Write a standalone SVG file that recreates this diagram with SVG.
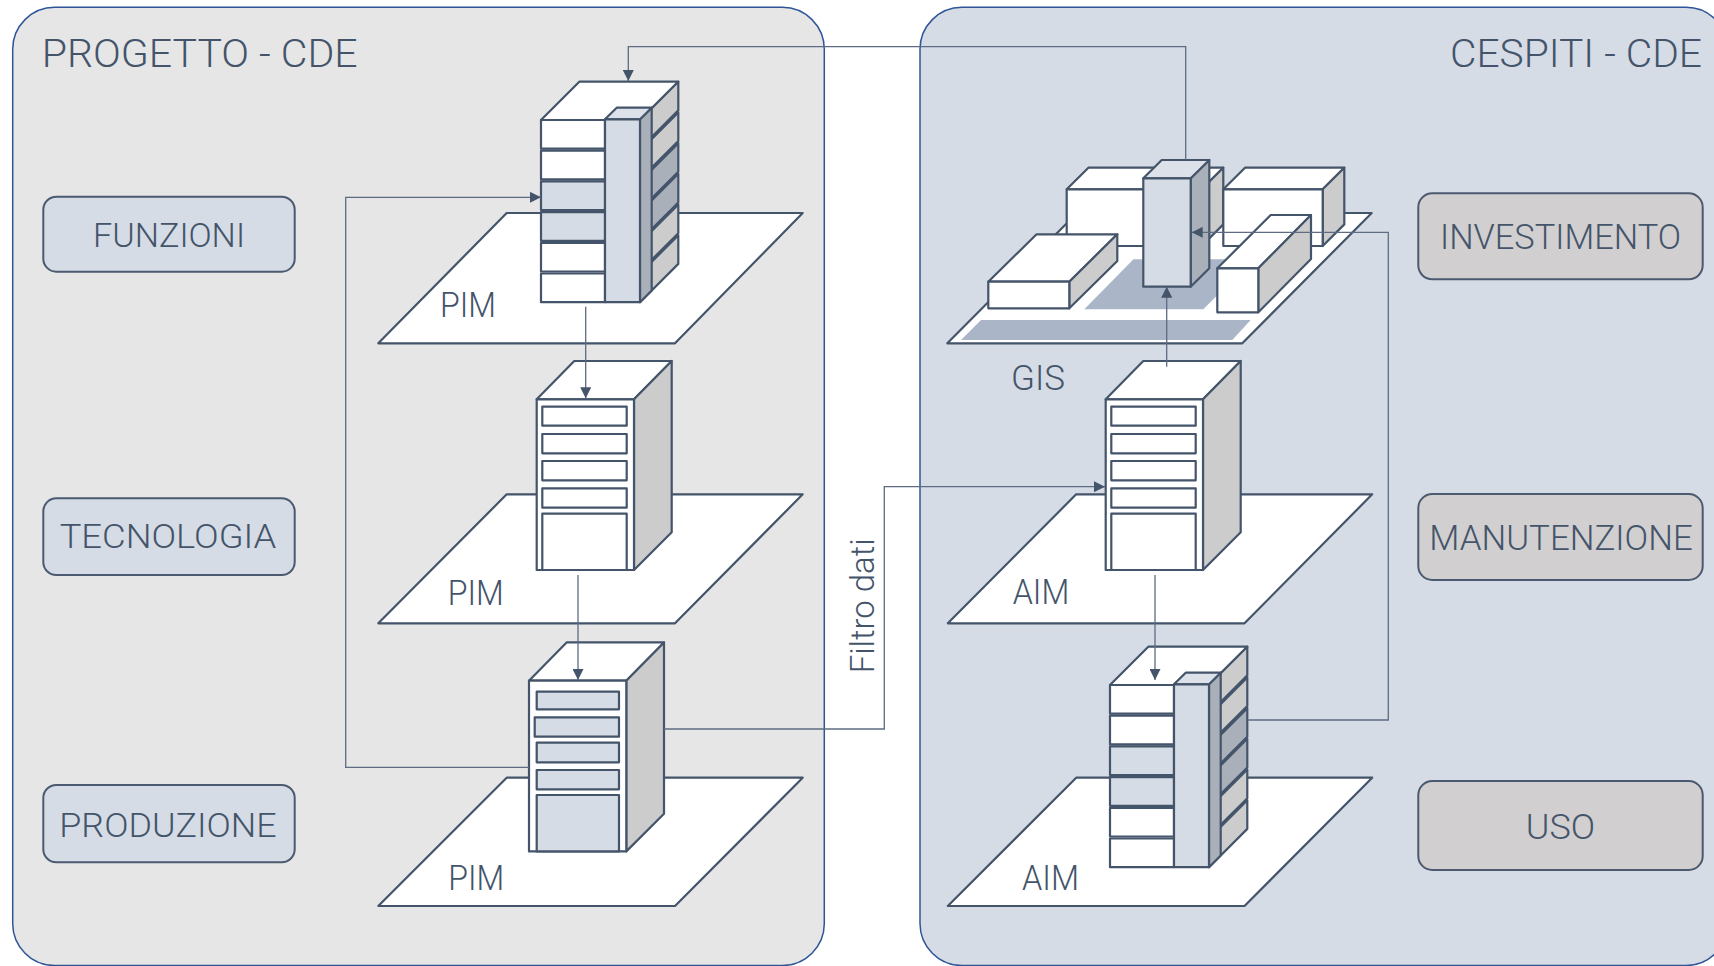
<svg xmlns="http://www.w3.org/2000/svg" width="1714" height="966" viewBox="0 0 1714 966">
<style>
.panelL{fill:#e6e6e6;stroke:#2f5597;stroke-width:1.5}
.panelR{fill:#d6dce5;stroke:#2f5597;stroke-width:1.5}
.box{stroke:#4b5a70;stroke-width:2}
.boxL{fill:#d6dce5}
.boxR{fill:#d1cfd0}
.ln{stroke:#44546a;stroke-width:2.2;stroke-linejoin:round}
.w{fill:#ffffff}
.g{fill:#cccccc}
.dk{fill:#aab0b9}
.bl{fill:#d6dce5}
.tp{fill:#dde2ea}
.strip{fill:#aab6c8;stroke:none}
.conn{fill:none;stroke:#5d6c82;stroke-width:1.3;marker-end:url(#arr)}
text{font-family:Roboto,"Liberation Sans",Arial,sans-serif;font-weight:300;fill:#44546a}
.title{font-size:38px}
.lbl{font-size:34px;text-anchor:middle}
.lblR{font-size:35px;text-anchor:middle}
.pl{font-size:35px}
</style>
<defs>
<marker id="arr" viewBox="0 0 11 11" refX="11" refY="5.5" markerWidth="11" markerHeight="11" markerUnits="userSpaceOnUse" orient="auto">
<path d="M0,0 L11,5.5 L0,11 Z" fill="#44546a"/>
</marker>
<g id="stack">
<path class="ln w" d="M0,0 L38.3,-38.3 L137.3,-38.3 L99,0 Z"/>
<path class="ln g" d="M99,0 L137.3,-38.3 L137.3,-9.6 L99,28.7 Z"/>
<path class="ln g" d="M99,30.7 L137.3,-7.6 L137.3,21.1 L99,59.4 Z"/>
<path class="ln dk" d="M99,61.4 L137.3,23.1 L137.3,51.8 L99,90.1 Z"/>
<path class="ln dk" d="M99,92.1 L137.3,53.8 L137.3,82.5 L99,120.8 Z"/>
<path class="ln g" d="M99,122.8 L137.3,84.5 L137.3,113.2 L99,151.5 Z"/>
<path class="ln g" d="M99,153.5 L137.3,115.2 L137.3,143.9 L99,182.2 Z"/>
<rect class="ln w" x="0" y="0" width="64" height="28.7"/>
<rect class="ln w" x="0" y="30.7" width="64" height="28.7"/>
<rect class="ln bl" x="0" y="61.4" width="64" height="28.7"/>
<rect class="ln bl" x="0" y="92.1" width="64" height="28.7"/>
<rect class="ln w" x="0" y="122.8" width="64" height="28.7"/>
<rect class="ln w" x="0" y="153.5" width="64" height="28.7"/>
<path class="ln dk" d="M99,-0.7 L110.7,-12.3 L110.7,170.5 L99,182.2 Z"/>
<path class="ln tp" d="M64,-0.7 L75.7,-12.3 L110.7,-12.3 L99,-0.7 Z"/>
<rect class="ln bl" x="64" y="-0.7" width="35" height="182.9"/>
</g>
<g id="server">
<path class="ln w" d="M0,0 L37.6,-38.3 L135,-38.3 L97.3,0 Z"/>
<path class="ln g" d="M97.3,0 L135,-38.3 L135,133 L97.3,170.7 Z"/>
<rect class="ln w" x="0" y="0" width="97.3" height="170.7"/>
</g>
</defs>

<rect width="1714" height="966" fill="#ffffff"/>

<g id="panel-progetto">
<rect class="panelL" x="12.7" y="7.3" width="811.6" height="958.2" rx="42"/>
<text class="title" x="41.7" y="66.7" textLength="316" lengthAdjust="spacingAndGlyphs">PROGETTO - CDE</text>
</g>
<g id="panel-cespiti">
<rect class="panelR" x="920" y="7.3" width="808" height="958.2" rx="42"/>
<text class="title" x="1450" y="66.7" textLength="252" lengthAdjust="spacingAndGlyphs">CESPITI - CDE</text>
</g>

<g id="box-funzioni">
<rect class="box boxL" x="43.3" y="196.7" width="251.4" height="75" rx="13"/>
<text class="lbl" x="169" y="246.7" textLength="152" lengthAdjust="spacingAndGlyphs">FUNZIONI</text>
</g>
<g id="box-tecnologia">
<rect class="box boxL" x="43.3" y="498.3" width="251.4" height="76.7" rx="13"/>
<text class="lbl" x="168" y="548.3" textLength="216.7" lengthAdjust="spacingAndGlyphs">TECNOLOGIA</text>
</g>
<g id="box-produzione">
<rect class="box boxL" x="43.3" y="785" width="251.4" height="77.3" rx="13"/>
<text class="lbl" x="168" y="837.3" textLength="217.4" lengthAdjust="spacingAndGlyphs">PRODUZIONE</text>
</g>

<g id="box-investimento">
<rect class="box boxR" x="1418.3" y="193.3" width="284.4" height="86" rx="14"/>
<text class="lblR" x="1560.5" y="249.3" textLength="241" lengthAdjust="spacingAndGlyphs">INVESTIMENTO</text>
</g>
<g id="box-manutenzione">
<rect class="box boxR" x="1418.3" y="494" width="284.4" height="86" rx="14"/>
<text class="lblR" x="1561" y="550" textLength="263.4" lengthAdjust="spacingAndGlyphs">MANUTENZIONE</text>
</g>
<g id="box-uso">
<rect class="box boxR" x="1418.3" y="781" width="284.4" height="89" rx="14"/>
<text class="lblR" x="1560.4" y="839" textLength="69.3" lengthAdjust="spacingAndGlyphs">USO</text>
</g>

<g id="pim1">
<path class="ln w" d="M378.3,343.3 L506.7,213 L802.7,213 L675,343.3 Z"/>
<use href="#stack" transform="translate(541,120)"/>
<text class="pl" x="440" y="316.7" textLength="56" lengthAdjust="spacingAndGlyphs">PIM</text>
</g>

<g id="pim2">
<path class="ln w" d="M378.3,623.3 L506.7,494.3 L802.7,494.3 L675,623.3 Z"/>
<g transform="translate(536.7,399.3)">
<use href="#server"/>
<rect class="ln w" x="5.6" y="7.4" width="84.4" height="19"/>
<rect class="ln w" x="5.6" y="34.7" width="84.4" height="19.3"/>
<rect class="ln w" x="5.6" y="61.7" width="84.4" height="19.3"/>
<rect class="ln w" x="5.6" y="89" width="84.4" height="19.4"/>
<rect class="ln w" x="5.6" y="114.4" width="84.4" height="56.3"/>
</g>
<text class="pl" x="447.7" y="605" textLength="56" lengthAdjust="spacingAndGlyphs">PIM</text>
</g>

<g id="pim3">
<path class="ln w" d="M378.3,906 L506.7,777.7 L802.7,777.7 L675,906 Z"/>
<g transform="translate(529,680.7)">
<use href="#server"/>
<rect class="ln bl" x="7.7" y="11" width="82.3" height="17.6"/>
<rect class="ln bl" x="5.7" y="36.6" width="84.3" height="19.4"/>
<rect class="ln bl" x="7.7" y="62" width="82.3" height="19.6"/>
<rect class="ln bl" x="7.7" y="89.3" width="82.3" height="19.3"/>
<rect class="ln bl" x="7.7" y="114.3" width="82.3" height="56.4"/>
</g>
<text class="pl" x="448.3" y="890" textLength="56" lengthAdjust="spacingAndGlyphs">PIM</text>
</g>

<g id="gis">
<path class="ln w" d="M947.3,343.3 L1077,213 L1371.7,213 L1242.3,343.3 Z"/>
<path class="strip" d="M961,340 L981,320 L1250.7,320 L1232.3,340 Z"/>
<path class="strip" d="M1084.3,309.3 L1133.5,259.3 L1253.3,259.3 L1203.3,309.3 Z"/>
<path class="ln w" d="M1066.7,189.3 L1088.4,167.7 L1223.3,167.7 L1201.7,189.3 Z"/>
<path class="ln g" d="M1201.7,189.3 L1223.3,167.7 L1223.3,224.4 L1201.7,246 Z"/>
<rect class="ln w" x="1066.7" y="189.3" width="135" height="56.7"/>
<path class="ln w" d="M1223.3,189.3 L1245,167.7 L1344.3,167.7 L1322.7,189.3 Z"/>
<path class="ln g" d="M1322.7,189.3 L1344.3,167.7 L1344.3,224.4 L1322.7,246 Z"/>
<rect class="ln w" x="1223.3" y="189.3" width="99.4" height="56.7"/>
<path class="ln w" d="M988.3,281.7 L1036.6,234.3 L1117.3,234.3 L1069.3,281.7 Z"/>
<path class="ln g" d="M1069.3,281.7 L1117.3,234.3 L1117.3,261 L1069.3,308.3 Z"/>
<rect class="ln w" x="988.3" y="281.7" width="81" height="26.6"/>
<path class="ln dk" d="M1190.7,178.3 L1209.3,160 L1209.3,268.3 L1190.7,286.7 Z"/>
<path class="ln tp" d="M1143.3,178.3 L1161.7,160 L1209.3,160 L1190.7,178.3 Z"/>
<rect class="ln bl" x="1143.3" y="178.3" width="47.4" height="108.4"/>
<path class="ln w" d="M1217.3,268.3 L1270.7,215 L1311,215 L1258.3,268.3 Z"/>
<path class="ln g" d="M1258.3,268.3 L1311,215 L1311,259 L1258.3,312.3 Z"/>
<rect class="ln w" x="1217.3" y="268.3" width="41" height="44"/>
<text class="pl" x="1011" y="390" textLength="54" lengthAdjust="spacingAndGlyphs">GIS</text>
</g>

<g id="aim1">
<path class="ln w" d="M947.8,623.3 L1076.2,494.3 L1372.2,494.3 L1244.5,623.3 Z"/>
<g transform="translate(1105.7,399.3)">
<use href="#server"/>
<rect class="ln w" x="5.6" y="7.4" width="84.4" height="19"/>
<rect class="ln w" x="5.6" y="34.7" width="84.4" height="19.3"/>
<rect class="ln w" x="5.6" y="61.7" width="84.4" height="19.3"/>
<rect class="ln w" x="5.6" y="89" width="84.4" height="19.4"/>
<rect class="ln w" x="5.6" y="114.4" width="84.4" height="56.3"/>
</g>
<text class="pl" x="1012.7" y="604.3" textLength="56.6" lengthAdjust="spacingAndGlyphs">AIM</text>
</g>

<g id="aim2">
<path class="ln w" d="M947.8,906 L1076.2,777.7 L1372.2,777.7 L1244.5,906 Z"/>
<use href="#stack" transform="translate(1110,685)"/>
<text class="pl" x="1022" y="890" textLength="57" lengthAdjust="spacingAndGlyphs">AIM</text>
</g>

<g id="filtro-dati">
<text transform="translate(873.5,673.3) rotate(-90)" font-size="34" textLength="135" lengthAdjust="spacingAndGlyphs">Filtro dati</text>
</g>

<g id="connectors">
<path class="conn" d="M585.7,306.7 V398.3"/>
<path class="conn" d="M578,575 V680"/>
<path class="conn" d="M529,767.3 H345.7 V197.3 H541"/>
<path class="conn" d="M664,729 H884.3 V486.7 H1105"/>
<path class="conn" d="M1166.7,366.7 V286.7"/>
<path class="conn" d="M1155,575 V680"/>
<path class="conn" d="M1247.7,720 H1388.3 V232.3 H1191.7"/>
<path class="conn" d="M1185.7,160 V46.7 H628.3 V81"/>
</g>
</svg>
